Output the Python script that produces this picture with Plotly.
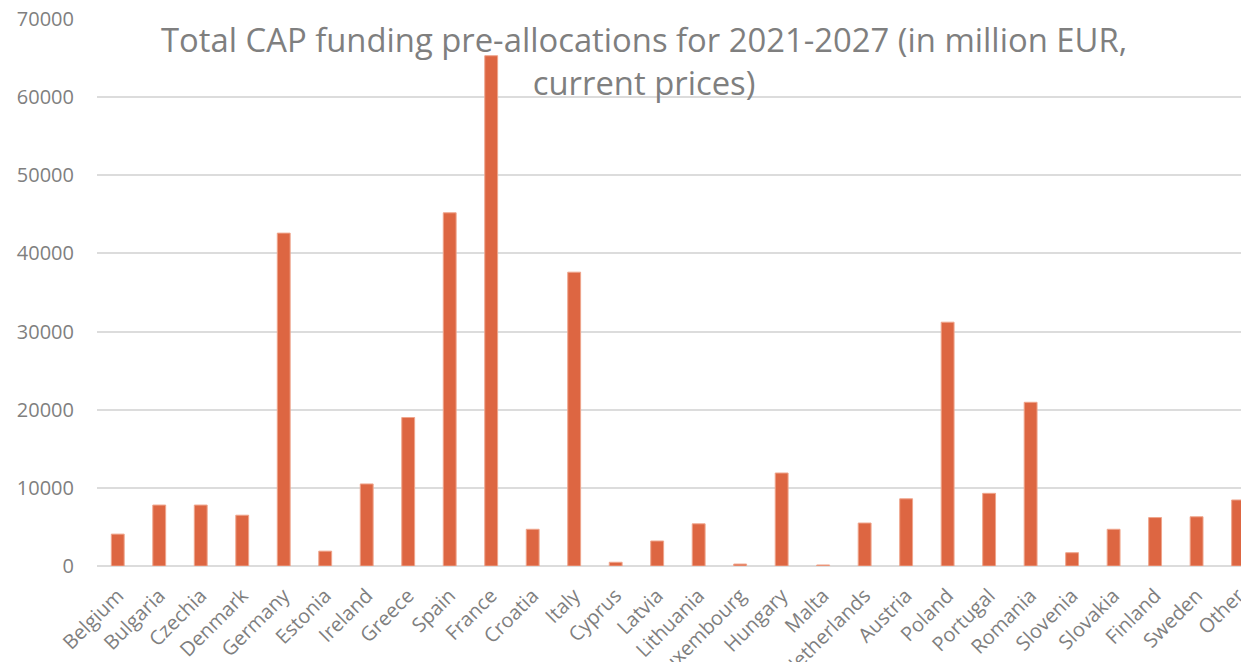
import plotly.graph_objects as go

countries = ["Belgium", "Bulgaria", "Czechia", "Denmark", "Germany", "Estonia", "Ireland",
             "Greece", "Spain", "France", "Croatia", "Italy", "Cyprus", "Latvia", "Lithuania",
             "Luxembourg", "Hungary", "Malta", "Netherlands", "Austria", "Poland", "Portugal",
             "Romania", "Slovenia", "Slovakia", "Finland", "Sweden", "Other"]
funding = [4080, 7800, 7800, 6500, 42600, 1900, 10500,
           19000, 45200, 65300, 4700, 37600, 480, 3200, 5400,
           250, 11900, 130, 5500, 8600, 31200, 9300,
           20950, 1700, 4700, 6200, 6300, 8450]
y_ticks = [0, 10000, 20000, 30000, 40000, 50000, 60000, 70000]

title_text = "Total CAP funding pre-allocations for 2021-2027 (in million EUR,<br>current prices)"
font_family = "Open Sans"
grey = "#7F7F7F"

fig = go.Figure(go.Bar(
    x=countries, y=funding,
    marker=dict(color="#DD6642", line=dict(color="#EFA58C", width=1)),
    width=0.31,
))

fig.update_layout(
    width=1241, height=662, autosize=False,
    margin=dict(l=97, r=0, t=19, b=96),
    paper_bgcolor="white", plot_bgcolor="white",
    showlegend=False,
    font=dict(family=font_family, color=grey),
    title=dict(text=title_text, x=0.519, xanchor="center", xref="container",
               y=1 - 52 / 662, yanchor="top", yref="container",
               font=dict(size=32.8, color=grey, family=font_family)),
    xaxis=dict(range=[-0.5, 27.07], tickangle=-45, showgrid=False, showline=False,
               tickfont=dict(size=20, color=grey), automargin=False,
               ticklabelstandoff=13, fixedrange=True),
    yaxis=dict(range=[0, 70000], tickvals=y_ticks, ticktext=[str(v) for v in y_ticks],
               showgrid=True, gridcolor="#DCDCDC", gridwidth=1.6, zeroline=True,
               zerolinecolor="#DCDCDC", zerolinewidth=1.6, showline=False,
               tickfont=dict(size=20, color=grey), automargin=False,
               ticklabelstandoff=22),
)

fig.write_html("out.html")
